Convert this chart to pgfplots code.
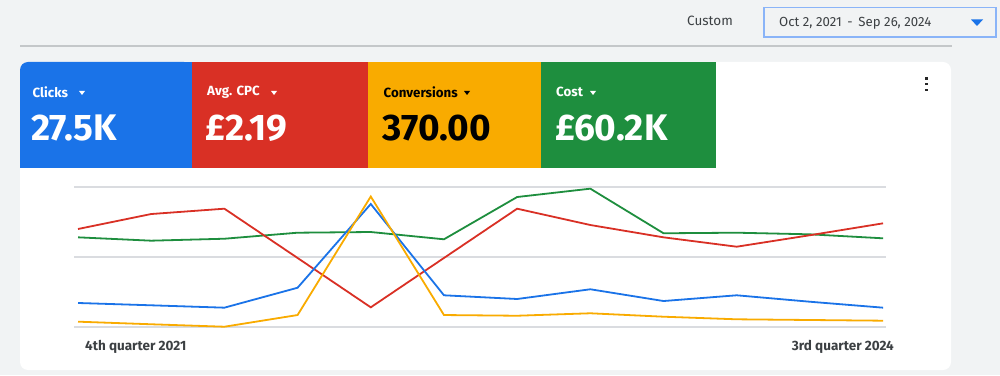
\documentclass[border=0pt]{standalone}
\usepackage{fontspec}
\setmainfont{Fira Sans}
\usepackage{pgfplots}
\pgfplotsset{compat=1.18}
\definecolor{gblue}{HTML}{1A73E8}
\definecolor{gred}{HTML}{D93025}
\definecolor{gyellow}{HTML}{F9AB00}
\definecolor{ggreen}{HTML}{1E8E3E}
\definecolor{bgc}{HTML}{F1F3F4}
\definecolor{linec}{HTML}{C4C7C9}
\definecolor{gridc}{HTML}{DADCE0}
\definecolor{txt}{HTML}{3C4043}
\definecolor{boxb}{HTML}{8AB4F8}
\begin{document}
\begin{tikzpicture}[x=1pt,y=1pt]
\useasboundingbox (0,0) rectangle (1000,375);
\fill[bgc] (0,0) rectangle (1000,375);
% header
\draw[linec, line width=2] (20,375-46.5) -- (952,375-46.5);
\node[anchor=west, inner sep=0, text=txt, font=\fontsize{13.5}{15}\selectfont] at (687,375-20.5) {Custom};
\draw[boxb, line width=1.3, fill=bgc] (764,375-7.5) rectangle (996,375-37);
\node[anchor=west, inner sep=0, text=txt, font=\fontsize{13.2}{15}\selectfont] at (779,375-23) {Oct 2, 2021 \,-\, Sep 26, 2024};
\fill[gblue] (971,375-19.5) -- (983,375-19.5) -- (977,375-26) -- cycle;
% card
\fill[white, rounded corners=8] (20,375-62) rectangle (951,375-370);
% tiles
\fill[gblue, rounded corners=8] (20,375-62) rectangle (192,375-168);
\fill[gblue] (60,375-62) rectangle (192,375-168);
\fill[gblue] (20,375-100) rectangle (192,375-168);
\fill[gred] (192,375-62) rectangle (368,375-168);
\fill[gyellow] (368,375-62) rectangle (541,375-168);
\fill[ggreen] (541,375-62) rectangle (716,375-168);
% tile labels
\tikzset{lab/.style={anchor=west, inner sep=0, font=\fontsize{13.3}{15}\selectfont\bfseries},
         val/.style={anchor=west, inner sep=0, font=\fontsize{37}{40}\selectfont\bfseries}}
\node[lab, text=white] at (32.5,375-92) {Clicks};
\fill[white] (79,375-91) -- (85,375-91) -- (82,375-95) -- cycle;
\node[val, text=white] at (31,375-128) {27.5K};
\node[lab, text=white] at (207,375-92) {Avg. CPC};
\fill[white] (271,375-91) -- (277,375-91) -- (274,375-95) -- cycle;
\node[val, text=white] at (205,375-128) {£2.19};
\node[lab, text=black] at (383.5,375-92) {Conversions};
\fill[black] (464,375-91) -- (470,375-91) -- (467,375-95) -- cycle;
\node[val, text=black] at (382,375-128) {370.00};
\node[lab, text=white] at (556,375-92) {Cost};
\fill[white] (590,375-91) -- (596,375-91) -- (593,375-95) -- cycle;
\node[val, text=white] at (555,375-128) {£60.2K};
% menu dots
\foreach \yy in {78.3,84,90} \fill[black!85] (924.8,375-\yy-1.4) rectangle (927.6,375-\yy+1.4);
% bottom labels
\node[anchor=west, inner sep=0, text=txt, font=\fontsize{13.5}{15}\selectfont\bfseries] at (85,375-347) {4th quarter 2021};
\node[anchor=east, inner sep=0, text=txt, font=\fontsize{13.5}{15}\selectfont\bfseries] at (894,375-347) {3rd quarter 2024};
% chart
\begin{axis}[at={(74pt,48pt)}, anchor=south west, scale only axis,
  width=812pt, height=140pt,
  xmin=-0.055, xmax=11.04, ymin=0, ymax=2,
  xtick=\empty, ytick={0,1,2}, yticklabels={},
  ymajorgrids, grid style={gridc, line width=1.5pt},
  axis line style={draw=none}, major tick style={draw=none},
  clip=false]
\addplot[ggreen, line width=1.8pt] coordinates {(0,1.281) (1,1.233) (2,1.261) (3,1.347) (4,1.357) (5,1.253) (6,1.857) (7,1.976) (8,1.339) (9,1.347) (10,1.324) (11,1.267)};
\addplot[gred, line width=1.8pt] coordinates {(0,1.400) (1,1.614) (2,1.690) (3,0.986) (4,0.281) (5,0.986) (6,1.690) (7,1.457) (8,1.281) (9,1.147) (10,1.311) (11,1.481)};
\addplot[gblue, line width=1.8pt] coordinates {(0,0.343) (1,0.310) (2,0.276) (3,0.561) (4,1.757) (5,0.453) (6,0.400) (7,0.539) (8,0.371) (9,0.453) (10,0.361) (11,0.276)};
\addplot[gyellow, line width=1.8pt] coordinates {(0,0.076) (1,0.039) (2,0.004) (3,0.171) (4,1.864) (5,0.171) (6,0.161) (7,0.196) (8,0.147) (9,0.110) (10,0.100) (11,0.090)};
\end{axis}
\end{tikzpicture}
\end{document}
